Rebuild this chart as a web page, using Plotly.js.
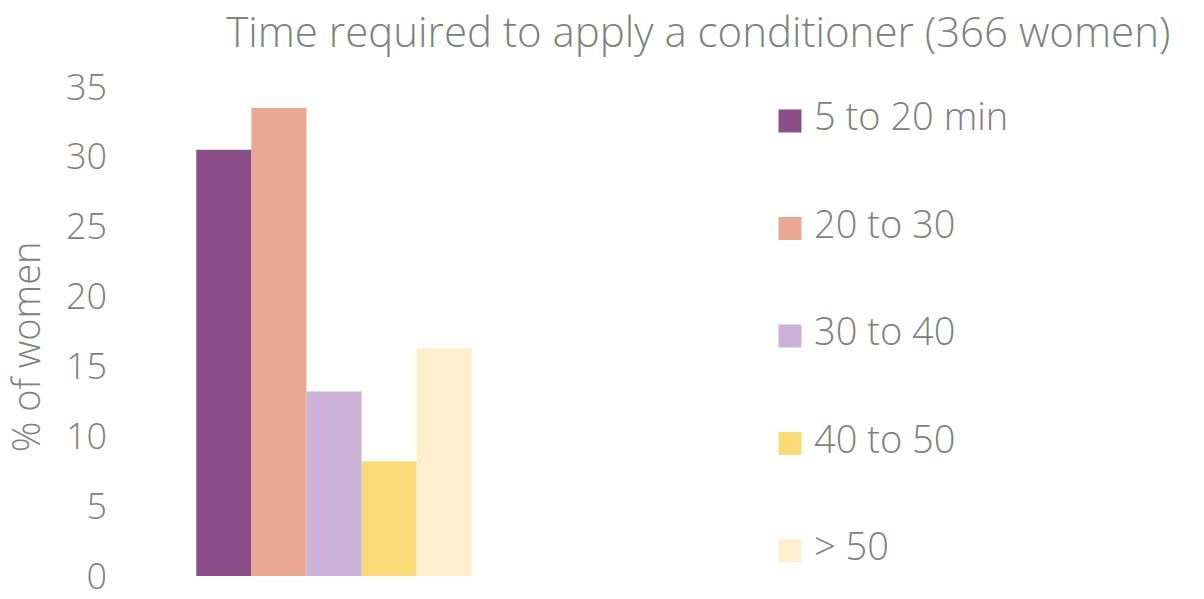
<!DOCTYPE html>
<html>
<head>
<meta charset="utf-8">
<script src="https://cdn.plot.ly/plotly-3.0.1.min.js"></script>
<style>
  html, body { margin: 0; padding: 0; background: #fff; }
  #chart { width: 1204px; height: 599px; }
</style>
</head>
<body>
<div id="chart"></div>
<script>
const timeBins = ["5 to 20 min", "20 to 30", "30 to 40", "40 to 50", "> 50"];
const pctWomen = [30.5, 33.5, 13.2, 8.2, 16.3];
const binColors = ["#8c4e88", "#e8a893", "#cbb2d6", "#f9da77", "#fef0ce"];
const legendRows = [0, 1, 2, 3, 4];

const textGray = "#808080";
const fontFamily = "'Open Sans', Lato, sans-serif";

// one bar trace per bin, all sharing a single blank category
const barTraces = timeBins.map((name, i) => ({
  type: "bar",
  name: name,
  x: [""],
  y: [pctWomen[i]],
  marker: { color: binColors[i] },
  showlegend: false,
  hoverinfo: "name+y"
}));

// legend drawn on its own hidden axes so the squares can be big
const legendSquares = {
  type: "scatter",
  mode: "markers",
  x: legendRows.map(() => 0),
  y: legendRows,
  xaxis: "x2",
  yaxis: "y2",
  marker: { symbol: "square", size: 23, color: binColors },
  cliponaxis: false,
  showlegend: false,
  hoverinfo: "skip"
};

const legendLabels = {
  type: "scatter",
  mode: "text",
  x: legendRows.map(() => 0.48),
  y: legendRows,
  xaxis: "x2",
  yaxis: "y2",
  text: timeBins,
  textposition: "middle right",
  textfont: { family: fontFamily, size: 38, color: textGray, weight: 300 },
  cliponaxis: false,
  showlegend: false,
  hoverinfo: "skip"
};

const layout = {
  width: 1204,
  height: 599,
  margin: { l: 140, r: 0, t: 87, b: 23 },
  paper_bgcolor: "#ffffff",
  plot_bgcolor: "rgba(0,0,0,0)",
  font: { family: fontFamily, color: textGray },
  barmode: "group",
  bargap: 0.29,
  bargroupgap: 0,
  title: {
    text: "Time required to apply a conditioner (366 women)",
    font: { family: fontFamily, size: 42, color: textGray, weight: 300 },
    x: 0.58,
    xanchor: "center",
    y: 0.946,
    yanchor: "middle"
  },
  xaxis: {
    domain: [0, 0.3647],
    showticklabels: false,
    showgrid: false,
    zeroline: false,
    showline: false,
    ticks: "",
    fixedrange: true
  },
  yaxis: {
    range: [0, 35],
    dtick: 5,
    showgrid: false,
    zeroline: false,
    showline: false,
    ticks: "",
    ticklabelstandoff: 32,
    ticklabeloverflow: "allow",
    tickfont: { family: fontFamily, size: 36, color: textGray, weight: 300 },
    automargin: false,
    fixedrange: true
  },
  xaxis2: {
    domain: [0.5639, 0.6579],
    range: [-1, 1],
    anchor: "y2",
    visible: false,
    fixedrange: true
  },
  yaxis2: {
    domain: [0, 1],
    range: [4.233, -0.316],
    anchor: "x2",
    visible: false,
    fixedrange: true
  },
  annotations: [{
    text: "% of women",
    textangle: -90,
    xref: "paper",
    yref: "paper",
    x: -0.108,
    y: 0.468,
    xanchor: "center",
    yanchor: "middle",
    showarrow: false,
    font: { family: fontFamily, size: 38, color: textGray, weight: 300 }
  }]
};

Plotly.newPlot("chart", barTraces.concat([legendSquares, legendLabels]), layout, {
  displayModeBar: false,
  responsive: false
});
</script>
</body>
</html>
